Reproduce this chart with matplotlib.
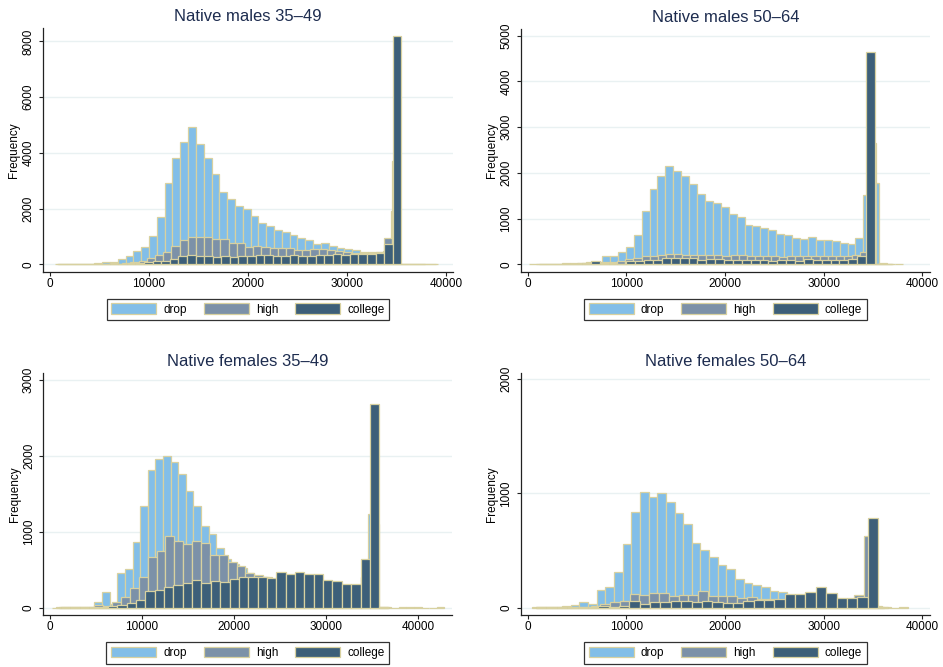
import numpy as np
import matplotlib
matplotlib.use('Agg')
import matplotlib.pyplot as plt

plt.rcParams['font.family'] = ['Liberation Sans', 'DejaVu Sans']

groups = ['drop', 'high', 'college']

# histogram counts per education group: first bin edge, bin width, counts
# Native males 35-49
m1_drop_start, m1_drop_width = 532, 789
m1_drop = [5, 15, 20, 15, 20, 35, 95, 90, 180, 300, 465, 607,
           1015, 1700, 2920, 3815, 4400, 4915, 4330, 3800, 3240, 2610, 2330, 2090,
           1985, 1720, 1470, 1365, 1245, 1150, 1040, 930, 870, 720, 750, 660,
           575, 540, 515, 430, 430, 455, 480, 1900, 20, 15, 10, 10, 5]
m1_high_start, m1_high_width = 694, 826
m1_high = [3, 5, 8, 10, 12, 15, 15, 20, 40, 80, 130, 210,
           333, 450, 655, 857, 964, 988, 964, 916, 904, 773, 773, 630,
           666, 630, 595, 571, 571, 512, 512, 535, 535, 512, 488, 452,
           416, 416, 393, 430, 928, 3700, 10, 5, 3]
m1_coll_start, m1_coll_width = 838, 866
m1_coll = [3, 5, 5, 8, 10, 15, 60, 20, 30, 50, 90,
           130, 130, 200, 285, 320, 310, 310, 275, 310, 250, 300, 300, 320, 333,
           300, 300, 345, 300, 300, 320, 320, 370, 345, 380, 355, 370, 405, 740,
           8200, 8, 5, 3, 2]

# Native males 50-64
m2_drop_start, m2_drop_width = 1104, 803
m2_drop = [5, 10, 15, 20, 25, 30, 45, 55,
           190, 190, 270, 370, 640, 1170, 1650, 1920, 2160, 2050, 1940, 1750,
           1530, 1390, 1330, 1250, 1100, 1030, 860, 830, 790, 760, 670, 630,
           580, 560, 590, 520, 520, 500, 460, 440, 570, 1510, 1780, 25, 10, 5]
m2_high_start, m2_high_width = 880, 820
m2_high = [3, 5, 8, 10, 15, 20, 30,
           40, 50, 60, 80, 110, 140, 170, 190, 200, 215, 230, 210, 205, 200,
           200, 195, 185, 200, 195, 185, 170, 175, 170, 165, 175, 170, 170, 175,
           170, 175, 180, 190, 210, 270, 2650, 10, 5]
m2_coll_start, m2_coll_width = 100, 900
m2_coll = [3, 5, 8, 10, 12, 15, 30, 73, 30, 20, 15,
           66, 66, 102, 102, 131, 139, 139, 131, 102, 124, 124, 102, 102, 102,
           102, 102, 73, 102, 102, 73, 117, 102, 102, 102, 102, 124, 183,
           4636, 10, 5]

# Native females 35-49
f1_drop_start, f1_drop_width = 704, 826
f1_drop = [5, 5, 8, 10, 15, 75, 206, 50,
           455, 506, 870, 1342, 1813, 1958, 2000, 1914, 1765, 1529, 1342, 1069,
           975, 780, 640, 580, 520, 450, 420, 400, 380, 370, 360, 350, 340, 330,
           320, 310, 300, 290, 280, 290, 400, 1230,
           10, 3, 0, 8, 8, 5, 0, 0, 8]
f1_high_start, f1_high_width = 960, 965
f1_high = [3, 5, 8, 10, 40, 25,
           79, 145, 263, 407, 670, 749, 946, 880, 832, 876, 845, 688, 688, 600,
           547, 460, 430, 407, 380, 370, 360, 350, 340, 340, 330, 300, 290, 290,
           400, 1100, 5]
f1_coll_start, f1_coll_width = 196, 1016
f1_coll = [2, 3, 5, 8, 10, 15, 20,
           30, 57, 100, 219, 232, 276, 298, 329, 364, 320, 355, 342, 381, 407,
           407, 407, 385, 473, 438, 464, 447, 447, 364, 355, 311, 311, 635,
           2680, 5]

# Native females 50-64
f2_drop_start, f2_drop_width = 850, 877
f2_drop = [5, 8, 10, 15, 20,
           53, 35, 152, 184, 312, 561, 835, 1010, 972, 1007, 923, 826, 730, 564,
           508, 441, 371, 342, 248, 216, 196, 178, 149, 140,
           110, 110, 115, 130, 110, 80, 80, 80, 85, 400, 15, 8, 0, 6]
f2_high_start, f2_high_width = 437, 990
f2_high = [2, 3, 5, 5, 8, 10, 15,
           29, 47, 58, 120, 108, 131, 126, 105, 114, 111, 143, 102, 99, 105,
           82, 96, 73, 75, 70, 70, 65, 65, 70, 70, 60, 60, 111, 628, 5]
f2_coll_start, f2_coll_width = 853, 1050
f2_coll = [2, 3, 5, 8, 10, 10, 15, 10, 15,
           55, 35, 53, 53, 61, 58, 53, 55, 53, 44, 44, 55, 64, 64, 76, 117, 117,
           140, 178, 131, 88, 88, 90, 783, 5]

titles = ['Native males 35\u201349', 'Native males 50\u201364',
          'Native females 35\u201349', 'Native females 50\u201364']
xticks = [0, 10000, 20000, 30000, 40000]
yticks = [[0, 2000, 4000, 6000, 8000],
          [0, 1000, 2000, 3000, 4000, 5000],
          [0, 1000, 2000, 3000],
          [0, 1000, 2000]]

panels = [
    [(m1_drop_start, m1_drop_width, m1_drop), (m1_high_start, m1_high_width, m1_high),
     (m1_coll_start, m1_coll_width, m1_coll)],
    [(m2_drop_start, m2_drop_width, m2_drop), (m2_high_start, m2_high_width, m2_high),
     (m2_coll_start, m2_coll_width, m2_coll)],
    [(f1_drop_start, f1_drop_width, f1_drop), (f1_high_start, f1_high_width, f1_high),
     (f1_coll_start, f1_coll_width, f1_coll)],
    [(f2_drop_start, f2_drop_width, f2_drop), (f2_high_start, f2_high_width, f2_high),
     (f2_coll_start, f2_coll_width, f2_coll)],
]

colors = ['#82bee8', '#7c91a8', '#3d5f79']
edge = '#d8d1a0'
gridc = '#e9f1f2'
titlec = '#1d2c4f'

rects = [[0.0456, 0.5922, 0.4348, 0.3658],
         [0.5522, 0.5927, 0.4340, 0.3634],
         [0.0459, 0.0780, 0.4337, 0.3633],
         [0.5522, 0.0780, 0.4340, 0.3633]]
xlims = [(-707, 40700), (-710, 40780), (-727, 43680), (-710, 40780)]
ylims = [(-276, 8481), (-162, 5140), (-96, 3092), (-64, 2058)]
leg_y = [-0.154, -0.156, -0.157, -0.157]

fig = plt.figure(figsize=(9.43, 6.67), dpi=100)
for i in range(4):
    ax = fig.add_axes(rects[i])
    handles = []
    for (start, width, counts), col in zip(panels[i], colors):
        left = start + width * np.arange(len(counts))
        b = ax.bar(left, counts, width=width, align='edge', color=col,
                   edgecolor=edge, linewidth=0.9, zorder=2)
        handles.append(b)
    ax.set_xlim(*xlims[i])
    ax.set_ylim(*ylims[i])
    ax.set_xticks(xticks)
    ax.set_yticks(yticks[i])
    ax.yaxis.grid(True, color=gridc, linewidth=1.0, zorder=0)
    ax.set_axisbelow(True)
    for s in ['top', 'right']:
        ax.spines[s].set_visible(False)
    for s in ['left', 'bottom']:
        ax.spines[s].set_linewidth(0.9)
        ax.spines[s].set_color('#222222')
    ax.tick_params(axis='both', direction='out', length=3, width=0.8,
                   labelsize=8.5, color='#222222')
    ax.tick_params(axis='x', pad=1.5)
    ax.tick_params(axis='y', labelrotation=90, pad=3)
    for lab in ax.get_yticklabels():
        lab.set_verticalalignment('center')
    ax.set_ylabel('Frequency', fontsize=8.5)
    ax.yaxis.set_label_coords(-0.055, 0.5)
    ax.set_title(titles[i], fontsize=12, color=titlec, pad=5)
    leg = ax.legend(handles, groups, loc='center', bbox_to_anchor=(0.5, leg_y[i]),
                    ncol=3, fontsize=8.5, frameon=True, fancybox=False,
                    edgecolor='black', handlelength=3.8, handleheight=1.0,
                    handletextpad=0.6, columnspacing=1.45, borderpad=0.4,
                    borderaxespad=0)
    leg.get_frame().set_linewidth(0.9)

fig.savefig('out.png', dpi=100, facecolor='white')
